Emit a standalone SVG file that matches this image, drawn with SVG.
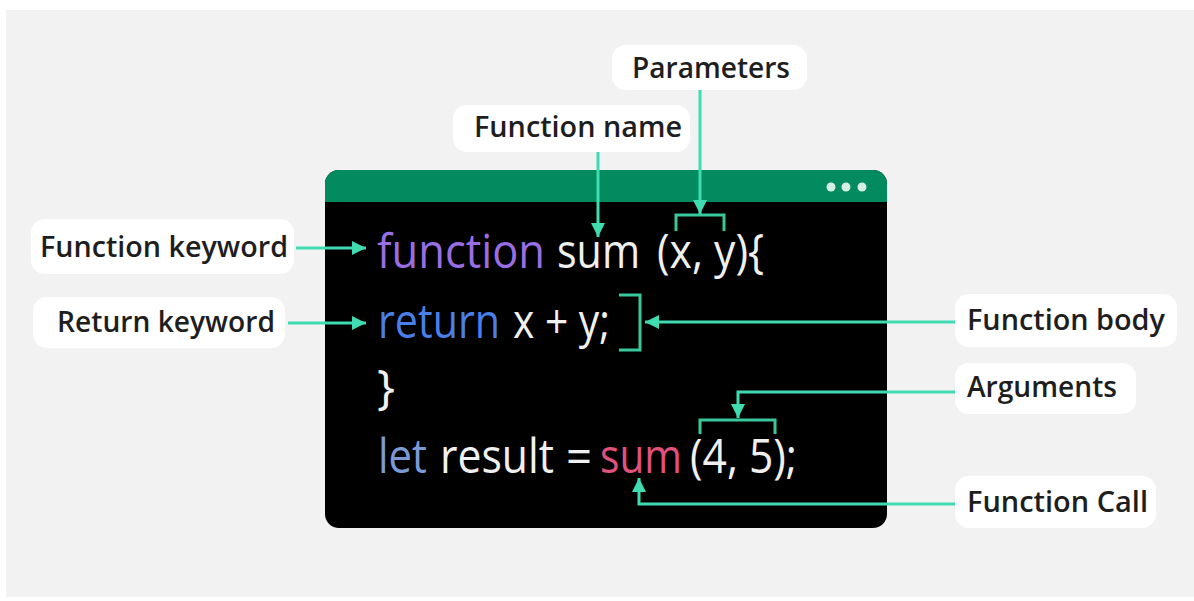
<svg xmlns="http://www.w3.org/2000/svg" width="1194" height="601" viewBox="0 0 1194 601">
  <defs>
    <style>
      .lbl-box { fill: #ffffff; }
      .lbl { font-family: "Open Sans", "Noto Sans", "Liberation Sans", sans-serif; font-size: 28px; font-weight: 600; fill: #1e1e1e; }
      .code { font-family: "Open Sans", "Noto Sans", "Liberation Sans", sans-serif; font-size: 48px; fill: #f0f0f0; }
      .kw-fn { fill: #9a6ee3; }
      .kw-ret { fill: #4b7fe8; }
      .kw-let { fill: #7a9ad6; }
      .call { fill: #e0517c; }
      .conn { fill: none; stroke: #3fdcb1; stroke-width: 3; }
      .brk { fill: none; stroke: #38c89b; stroke-width: 3; }
    </style>
    <marker id="arrow" viewBox="0 0 10 10" refX="10" refY="5" markerWidth="14" markerHeight="14" markerUnits="userSpaceOnUse" orient="auto">
      <path d="M0,0 L10,5 L0,10 Z" fill="#3fdcb1"/>
    </marker>
  </defs>

  <rect x="6" y="10" width="1188" height="587" fill="#f2f2f2"/>

  <g id="code-window">
    <rect x="325" y="170" width="562" height="358" rx="14" fill="#000000"/>
    <path d="M325,202 V184 A14,14 0 0 1 339,170 H873 A14,14 0 0 1 887,184 V202 Z" fill="#038a5f"/>
    <circle cx="831" cy="187" r="4.5" fill="#d6efe5"/>
    <circle cx="846" cy="187" r="4.5" fill="#d6efe5"/>
    <circle cx="862" cy="187" r="4.5" fill="#d6efe5"/>
    <text class="code">
      <tspan class="kw-fn" x="377" y="268" textLength="168" lengthAdjust="spacingAndGlyphs">function</tspan>
      <tspan x="557" y="268" textLength="83" lengthAdjust="spacingAndGlyphs">sum</tspan>
      <tspan x="657" y="268" textLength="107" lengthAdjust="spacingAndGlyphs">(x, y){</tspan>
    </text>
    <text class="code">
      <tspan class="kw-ret" x="378" y="338" textLength="122" lengthAdjust="spacingAndGlyphs">return</tspan>
      <tspan x="513" y="338" textLength="97" lengthAdjust="spacingAndGlyphs">x + y;</tspan>
    </text>
    <text class="code" x="377" y="404">}</text>
    <text class="code">
      <tspan class="kw-let" x="378" y="473" textLength="49" lengthAdjust="spacingAndGlyphs">let</tspan>
      <tspan x="440" y="473" textLength="114" lengthAdjust="spacingAndGlyphs">result</tspan>
      <tspan x="566" y="473" textLength="26" lengthAdjust="spacingAndGlyphs">=</tspan>
      <tspan class="call" x="600" y="473" textLength="82" lengthAdjust="spacingAndGlyphs">sum</tspan>
      <tspan x="690" y="473" textLength="107" lengthAdjust="spacingAndGlyphs">(4, 5);</tspan>
    </text>
    <path class="brk" d="M676,231 V215 H724 V231"/>
    <path class="brk" d="M619,295 H640 V350 H619"/>
    <path class="brk" d="M700,434 V420 H775 V434"/>
  </g>

  <g id="label-parameters">
    <rect class="lbl-box" x="612" y="45" width="195" height="45" rx="14"/>
    <text class="lbl" x="632" y="78" textLength="158" lengthAdjust="spacingAndGlyphs">Parameters</text>
  </g>
  <g id="label-function-name">
    <rect class="lbl-box" x="453" y="105" width="237" height="47" rx="14"/>
    <text class="lbl" x="474" y="137" textLength="208" lengthAdjust="spacingAndGlyphs">Function name</text>
  </g>
  <g id="label-function-keyword">
    <rect class="lbl-box" x="31" y="219" width="263" height="55" rx="14"/>
    <text class="lbl" x="40" y="257" textLength="248" lengthAdjust="spacingAndGlyphs">Function keyword</text>
  </g>
  <g id="label-return-keyword">
    <rect class="lbl-box" x="33" y="297" width="252" height="51" rx="14"/>
    <text class="lbl" x="57" y="332" textLength="218" lengthAdjust="spacingAndGlyphs">Return keyword</text>
  </g>
  <g id="label-function-body">
    <rect class="lbl-box" x="955" y="294" width="222" height="53" rx="14"/>
    <text class="lbl" x="967" y="330" textLength="198" lengthAdjust="spacingAndGlyphs">Function body</text>
  </g>
  <g id="label-arguments">
    <rect class="lbl-box" x="955" y="363" width="181" height="51" rx="14"/>
    <text class="lbl" x="967" y="397" textLength="150" lengthAdjust="spacingAndGlyphs">Arguments</text>
  </g>
  <g id="label-function-call">
    <rect class="lbl-box" x="955" y="476" width="201" height="52" rx="14"/>
    <text class="lbl" x="967" y="512" textLength="181" lengthAdjust="spacingAndGlyphs">Function Call</text>
  </g>

  <g id="connectors">
    <path class="conn" d="M296,248 H366" marker-end="url(#arrow)"/>
    <path class="conn" d="M288,323 H366" marker-end="url(#arrow)"/>
    <path class="conn" d="M598,152 V237" marker-end="url(#arrow)"/>
    <path class="conn" d="M700,90 V214" marker-end="url(#arrow)"/>
    <path class="conn" d="M955,322 H645" marker-end="url(#arrow)"/>
    <path class="conn" d="M955,392 H738 V418" marker-end="url(#arrow)"/>
    <path class="conn" d="M955,504 H639 V478" marker-end="url(#arrow)"/>
  </g>
</svg>
